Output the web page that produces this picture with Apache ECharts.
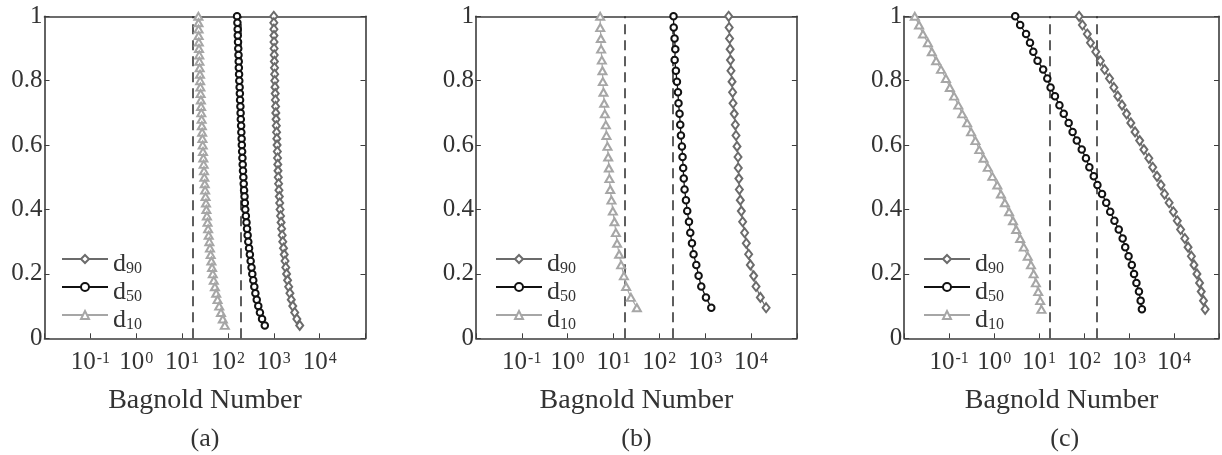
<!DOCTYPE html>
<html><head><meta charset="utf-8">
<script src="https://cdn.jsdelivr.net/npm/echarts@6/dist/echarts.min.js"></script>
<style>html,body{margin:0;padding:0;background:#fff}#c{width:1222px;height:455px}</style>
</head><body><div id="c"></div>
<script>
// ---- data (dimensionless height vs Bagnold number) ----
const heightA = [1, 0.98, 0.96, 0.94, 0.92, 0.9, 0.88, 0.86, 0.84, 0.82, 0.8, 0.78, 0.76, 0.74, 0.72, 0.7, 0.68, 0.66, 0.64, 0.62, 0.6, 0.58, 0.56, 0.54, 0.52, 0.5, 0.48, 0.46, 0.44, 0.42, 0.4, 0.38, 0.36, 0.34, 0.32, 0.3, 0.28, 0.26, 0.24, 0.22, 0.2, 0.18, 0.16, 0.14, 0.12, 0.1, 0.08, 0.06, 0.04];
const d90A = [1000, 1002, 1007, 1009, 1012, 1016, 1023, 1030, 1038, 1045, 1052, 1062, 1074, 1084, 1096, 1107, 1122, 1135, 1151, 1164, 1180, 1194, 1208, 1222, 1236, 1253, 1274, 1297, 1321, 1346, 1371, 1406, 1442, 1483, 1524, 1570, 1629, 1690, 1758, 1828, 1901, 2000, 2113, 2249, 2404, 2594, 2858, 3184, 3681];
const d50A = [158, 161, 163, 164, 166, 168, 170, 172, 173, 175, 177, 180, 182, 184, 187, 189, 191, 194, 196, 199, 201, 204, 207, 210, 213, 217, 221, 225, 230, 234, 239, 246, 254, 261, 269, 278, 289, 301, 313, 327, 340, 357, 376, 397, 425, 459, 499, 555, 637];
const d10A = [22.7, 22.8, 22.9, 23.0, 23.2, 23.4, 23.7, 23.9, 24.2, 24.6, 24.8, 25.1, 25.4, 25.7, 26.0, 26.3, 26.7, 27.0, 27.4, 27.8, 28.2, 28.6, 29.1, 29.6, 30.1, 30.6, 31.2, 31.8, 32.5, 33.2, 33.9, 34.8, 35.9, 37.0, 38.1, 39.4, 40.6, 42.1, 43.6, 45.1, 46.8, 49.2, 52.0, 55.5, 59.4, 64.6, 70.5, 77.3, 85.5];

const heightB = [1.000, 0.965, 0.931, 0.898, 0.864, 0.831, 0.797, 0.764, 0.730, 0.697, 0.663, 0.630, 0.596, 0.563, 0.529, 0.496, 0.462, 0.429, 0.395, 0.362, 0.328, 0.295, 0.261, 0.228, 0.194, 0.161, 0.127, 0.095];
const d90B = [3250, 3330, 3400, 3500, 3560, 3650, 3850, 3960, 4050, 4300, 4540, 4700, 4940, 5200, 5270, 5430, 5560, 5830, 6140, 6560, 7240, 7890, 8870, 9660, 11400, 12850, 15960, 21300];
const d50B = [204, 206, 215, 223, 216, 230, 242, 255, 262, 276, 286, 296, 311, 321, 331, 341, 355, 381, 406, 443, 473, 515, 558, 640, 718, 822, 1040, 1358];
const d10B = [5.13, 5.15, 5.31, 5.38, 5.58, 5.75, 5.87, 6.05, 6.27, 6.49, 6.82, 7.03, 7.40, 7.67, 7.94, 8.17, 8.51, 9.04, 9.70, 10.5, 11.3, 12.0, 13.3, 14.7, 16.9, 18.9, 24.0, 32.4];

const heightC = [1.000, 0.973, 0.945, 0.918, 0.890, 0.862, 0.835, 0.807, 0.779, 0.752, 0.724, 0.697, 0.669, 0.641, 0.614, 0.586, 0.559, 0.531, 0.503, 0.476, 0.448, 0.421, 0.393, 0.365, 0.338, 0.310, 0.283, 0.255, 0.228, 0.200, 0.172, 0.145, 0.117, 0.090];
const d90C = [77.4, 91.8, 118, 139, 182, 230, 286, 368, 459, 561, 697, 881, 1094, 1358, 1722, 2138, 2748, 3357, 4188, 5129, 6138, 7780, 9661, 11803, 13996, 17378, 20512, 24322, 27733, 32285, 36983, 40272, 45186, 49204];
const d50C = [2.94, 3.79, 5.13, 6.27, 7.43, 9.23, 12.3, 15.2, 18.0, 22.5, 28.3, 35.3, 45.4, 55.6, 68.9, 88.7, 110, 131, 164, 198, 251, 311, 381, 473, 590, 721, 822, 975, 1151, 1291, 1459, 1660, 1811, 1930];
const d10C = [0.0172, 0.0214, 0.0261, 0.0336, 0.0411, 0.0513, 0.0659, 0.0847, 0.1035, 0.1285, 0.1596, 0.195, 0.251, 0.307, 0.383, 0.468, 0.581, 0.721, 0.914, 1.175, 1.416, 1.730, 2.148, 2.624, 3.097, 3.793, 4.560, 5.585, 6.592, 7.551, 8.472, 9.550, 10.57, 11.27];

const thresholds = [17.4, 195];
const seriesNames = ['d90', 'd50', 'd10'];
const panelTags = ['(a)', '(b)', '(c)'];
const axisTitle = 'Bagnold Number';
const xMin = 0.01, xMax = 100000;

// ---- presentation ----
const F = "'Liberation Serif','DejaVu Serif',serif";
const TC = '#333333';
const AX = '#3d3d3d';
const GW = 321, GH = 322, GT = 16.3;
const panels = [
  {h: heightA, v: {d90: d90A, d50: d50A, d10: d10A}, left: 44.5, legendLeft: 56},
  {h: heightB, v: {d90: d90B, d50: d50B, d10: d10B}, left: 475.9, legendLeft: 490},
  {h: heightC, v: {d90: d90C, d50: d50C, d10: d10C}, left: 904.2, legendLeft: 918}
];
const sty = {
  d90: {color: '#6b6b6b', symbol: 'emptyDiamond', size: [7, 9], lw: 1.2},
  d50: {color: '#111111', symbol: 'emptyCircle', size: 6.5, lw: 1.3},
  d10: {color: '#a6a6a6', symbol: 'emptyTriangle', size: [8, 7], lw: 1.2}
};

function xfmt(v) {
  const e = Math.round(Math.log10(v));
  if (e < -1 || e > 4) return '';
  return '{b|10}{e|' + e + '}';
}

const grid = [], xAxis = [], yAxis = [], series = [], legend = [], graphic = [];
panels.forEach((p, i) => {
  grid.push({left: p.left, top: GT, width: GW, height: GH, show: false});
  xAxis.push({
    type: 'log', logBase: 10, min: xMin, max: xMax, gridIndex: i, position: 'bottom',
    axisLine: {show: true, onZero: false, lineStyle: {color: AX, width: 1.6}},
    axisTick: {show: true, inside: true, length: 5, lineStyle: {color: AX, width: 1}},
    splitLine: {show: false}, minorTick: {show: false},
    axisLabel: {formatter: xfmt, margin: 12, rich: {
      b: {fontSize: 25, fontFamily: F, color: TC},
      e: {fontSize: 16, fontFamily: F, color: TC, verticalAlign: 'top', padding: [0, 0, 0, 1]}
    }},
    name: axisTitle, nameLocation: 'middle', nameGap: 48,
    nameTextStyle: {fontSize: 28, fontFamily: F, color: TC}
  });
  xAxis.push({
    type: 'log', logBase: 10, min: xMin, max: xMax, gridIndex: i, position: 'top',
    axisLine: {show: true, onZero: false, lineStyle: {color: AX, width: 1.6}},
    axisTick: {show: false}, axisLabel: {show: false}, splitLine: {show: false}
  });
  yAxis.push({
    type: 'value', min: 0, max: 1, interval: 0.2, gridIndex: i, position: 'left',
    axisLine: {show: true, onZero: false, lineStyle: {color: AX, width: 1.6}},
    axisTick: {show: true, inside: true, length: 5, lineStyle: {color: AX, width: 1}},
    splitLine: {show: false},
    axisLabel: {margin: 2, fontSize: 25, fontFamily: F, color: TC,
      formatter: v => (v === 0 ? '0' : v === 1 ? '1' : v.toFixed(1))}
  });
  yAxis.push({
    type: 'value', min: 0, max: 1, interval: 0.2, gridIndex: i, position: 'right',
    axisLine: {show: true, onZero: false, lineStyle: {color: AX, width: 1.6}},
    axisTick: {show: true, inside: true, length: 5, lineStyle: {color: AX, width: 1}},
    splitLine: {show: false}, axisLabel: {show: false}
  });
  seriesNames.forEach(n => {
    const s = sty[n];
    const ser = {
      type: 'line', name: n, xAxisIndex: 2 * i, yAxisIndex: 2 * i,
      data: p.h.map((h, k) => [p.v[n][k], h]),
      symbol: s.symbol, symbolSize: s.size, showAllSymbol: true,
      lineStyle: {color: s.color, width: s.lw},
      itemStyle: {color: s.color, borderColor: s.color, borderWidth: 1.1},
      emphasis: {disabled: true}, silent: true, z: 3
    };
    if (n === 'd50') {
      ser.markLine = {
        silent: true, symbol: ['none', 'none'], label: {show: false},
        lineStyle: {type: [10, 6], color: '#2a2a2a', width: 1.5},
        data: thresholds.map(v => ({xAxis: v})), z: 2
      };
    }
    series.push(ser);
  });
  legend.push({
    left: p.legendLeft, top: 246, orient: 'vertical', itemWidth: 46, itemHeight: 10, itemGap: 2,
    selectedMode: false, data: seriesNames,
    formatter: name => '{d|d}{s|' + name.slice(1) + '}',
    textStyle: {padding: [10, 0, 0, 0], rich: {
      d: {fontSize: 26, fontFamily: F, color: TC, lineHeight: 26},
      s: {fontSize: 16, fontFamily: F, color: TC, lineHeight: 17, verticalAlign: 'bottom'}
    }}
  });
  graphic.push({
    type: 'text', x: p.left + GW / 2, y: 439,
    style: {text: panelTags[i], font: '26px ' + F, fill: TC, align: 'center', verticalAlign: 'middle'}
  });
});

const chart = echarts.init(document.getElementById('c'), null, {renderer: 'canvas'});
chart.setOption({animation: false, backgroundColor: '#ffffff', grid, xAxis, yAxis, series, legend, graphic});
</script></body></html>
